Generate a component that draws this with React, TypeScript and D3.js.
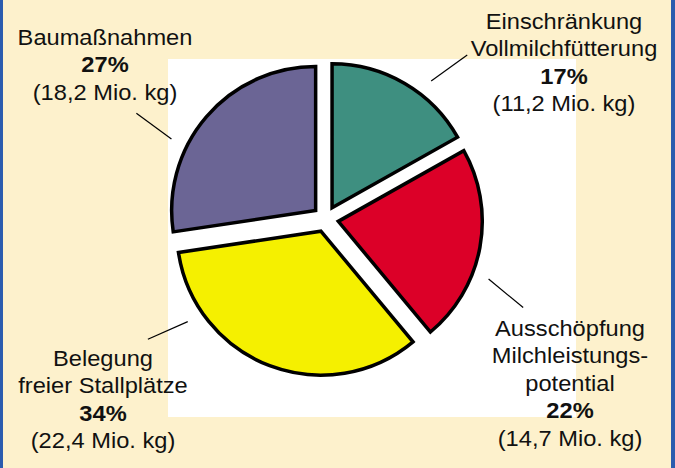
import React, {useRef, useEffect} from 'react';
import * as d3 from 'd3';

// Milchmenge in Mio. kg, im Uhrzeigersinn ab 12 Uhr
const categories = ['Einschränkung Vollmilchfütterung', 'Ausschöpfung Milchleistungspotential', 'Belegung freier Stallplätze', 'Baumaßnahmen'];
const amounts = [11.2, 14.7, 22.4, 18.2];
const percentLabels = ['17%', '22%', '34%', '27%'];
const amountLabels = ['(11,2 Mio. kg)', '(14,7 Mio. kg)', '(22,4 Mio. kg)', '(18,2 Mio. kg)'];
const nameLines = [
    ['Einschränkung', 'Vollmilchfütterung'],
    ['Ausschöpfung', 'Milchleistungs-', 'potential'],
    ['Belegung', 'freier Stallplätze'],
    ['Baumaßnahmen'],
];
const colors = ['#3e8f80', '#dc0028', '#f5f000', '#6b6595'];

// label block placement (center x, first baseline) and leader angles
const labelPos = [
    {x: 564, y: 29, a1: 38, a2: 41.5},
    {x: 570, y: 336, a1: 111, a2: 115},
    {x: 103, y: 366, a1: 235.8, a2: 238},
    {x: 105, y: 45, a1: 296.4, a2: 298.5},
];

const width = 675;
const height = 468;

const App = () => {
    const svgRef = useRef(null);

    useEffect(() => {
        const svg = d3.select(svgRef.current);
        svg.selectAll('*').remove();

        // background
        svg.append('rect').attr('width', width).attr('height', height).attr('fill', '#fdf1cc');
        svg.append('rect').attr('x', 0).attr('width', 3).attr('height', height).attr('fill', '#2b5cae');
        svg.append('rect').attr('x', 671).attr('width', 4).attr('height', height).attr('fill', '#2b5cae');
        svg.append('rect').attr('x', 168).attr('y', 59).attr('width', 408).attr('height', 358).attr('fill', '#ffffff');

        const cx = 325.5, cy = 219, radius = 144, explode = 13;

        const pie = d3.pie<number>().sort(null).value(d => d);
        const arcs = pie(amounts);
        const arc = d3.arc<d3.PieArcDatum<number>>().innerRadius(0).outerRadius(radius);

        const chart = svg.append('g').attr('transform', `translate(${cx}, ${cy})`);

        arcs.forEach((a, i) => {
            const mid = (a.startAngle + a.endAngle) / 2;
            const ox = Math.sin(mid) * explode;
            const oy = -Math.cos(mid) * explode;
            const g = chart.append('g').attr('transform', `translate(${ox}, ${oy})`);
            g.append('path')
                .attr('d', arc(a))
                .attr('fill', colors[i])
                .attr('stroke', '#000')
                .attr('stroke-width', 3.5)
                .attr('stroke-linejoin', 'miter');

            // leader line
            const p = labelPos[i];
            const r1 = 161, r2 = 204;
            const t1 = p.a1 * Math.PI / 180, t2 = p.a2 * Math.PI / 180;
            g.append('line')
                .attr('x1', Math.sin(t1) * r1).attr('y1', -Math.cos(t1) * r1)
                .attr('x2', Math.sin(t2) * r2).attr('y2', -Math.cos(t2) * r2)
                .attr('stroke', '#000')
                .attr('stroke-width', 1.2);
        });

        // labels
        categories.forEach((c, i) => {
            const p = labelPos[i];
            const lines = [
                ...nameLines[i].map(t => ({t, bold: false})),
                {t: percentLabels[i], bold: true},
                {t: amountLabels[i], bold: false},
            ];
            const lg = svg.append('g')
                .attr('transform', `translate(${p.x}, ${p.y}) scale(1.1, 1)`)
                .attr('font-family', 'Liberation Sans, Arial, sans-serif')
                .attr('font-size', 21.5)
                .attr('text-anchor', 'middle')
                .attr('fill', '#111');
            lines.forEach((l, j) => {
                lg.append('text')
                    .attr('x', 0)
                    .attr('y', j * 27.4)
                    .attr('font-weight', l.bold ? 'bold' : 'normal')
                    .text(l.t);
            });
        });
    }, []);

    return (
        <svg ref={svgRef} width={width} height={height}
             style={{position: 'absolute', left: 0, top: 0, display: 'block'}}/>
    );
};

export default App;
